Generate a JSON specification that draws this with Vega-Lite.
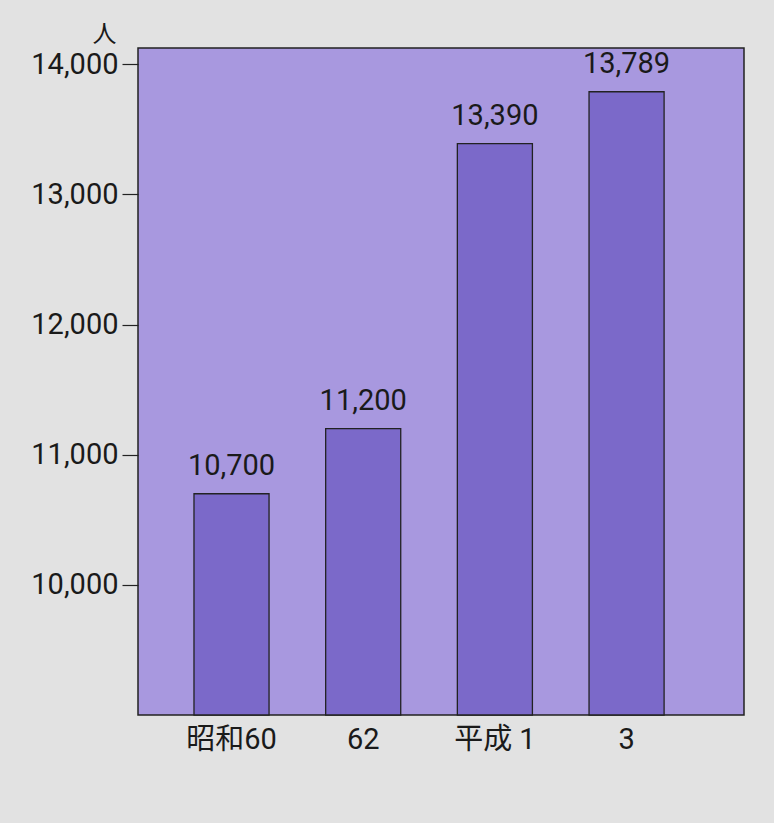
{
  "$schema": "https://vega.github.io/schema/vega-lite/v6.json",
  "width": 606,
  "height": 667,
  "autosize": {"type": "none"},
  "padding": {"left": 138, "top": 48, "right": 30, "bottom": 108},
  "background": "#e2e2e2",
  "config": {
    "view": {"fill": "#a898df", "stroke": "#222222", "strokeWidth": 1.5},
    "font": "Roboto, Noto Sans CJK JP, sans-serif"
  },
  "data": {
    "values": [
      {"year": "昭和60", "value": 10700},
      {"year": "62", "value": 11200},
      {"year": "平成 1", "value": 13390},
      {"year": "3", "value": 13789}
    ]
  },
  "encoding": {
    "x": {
      "field": "year",
      "type": "nominal",
      "sort": null,
      "scale": {"paddingInner": 0.43, "paddingOuter": 0.516, "align": 0.412},
      "axis": {
        "title": null,
        "domain": false,
        "ticks": false,
        "labelAngle": 0,
        "labelFontSize": 29,
        "labelColor": "#1a1a1a",
        "labelPadding": 10,
        "labelFont": "Roboto, Noto Sans CJK JP, sans-serif"
      }
    },
    "y": {
      "field": "value",
      "type": "quantitative",
      "scale": {"domain": [9000, 14125], "zero": false, "nice": false},
      "axis": {
        "values": [10000, 11000, 12000, 13000, 14000],
        "format": ",d",
        "grid": false,
        "domain": false,
        "tickSize": 16,
        "tickColor": "#222222",
        "tickWidth": 1.2,
        "labelFontSize": 29,
        "labelColor": "#1a1a1a",
        "labelPadding": 4,
        "labelFont": "Roboto, Noto Sans CJK JP, sans-serif",
        "title": "人",
        "titleAngle": 0,
        "titleFontSize": 24,
        "titleFontWeight": "normal",
        "titleColor": "#1a1a1a",
        "titleAlign": "center",
        "titleBaseline": "bottom",
        "titleX": -34,
        "titleY": -2,
        "titleFont": "Noto Sans CJK JP, sans-serif"
      }
    }
  },
  "layer": [
    {
      "mark": {"type": "bar", "fill": "#7b69c9", "stroke": "#222222", "strokeWidth": 1.3},
      "encoding": {"y2": {"datum": 9000}}
    },
    {
      "mark": {"type": "text", "baseline": "bottom", "dy": -13, "fontSize": 29, "color": "#1a1a1a"},
      "encoding": {"text": {"field": "value", "type": "quantitative", "format": ",d"}}
    }
  ]
}
